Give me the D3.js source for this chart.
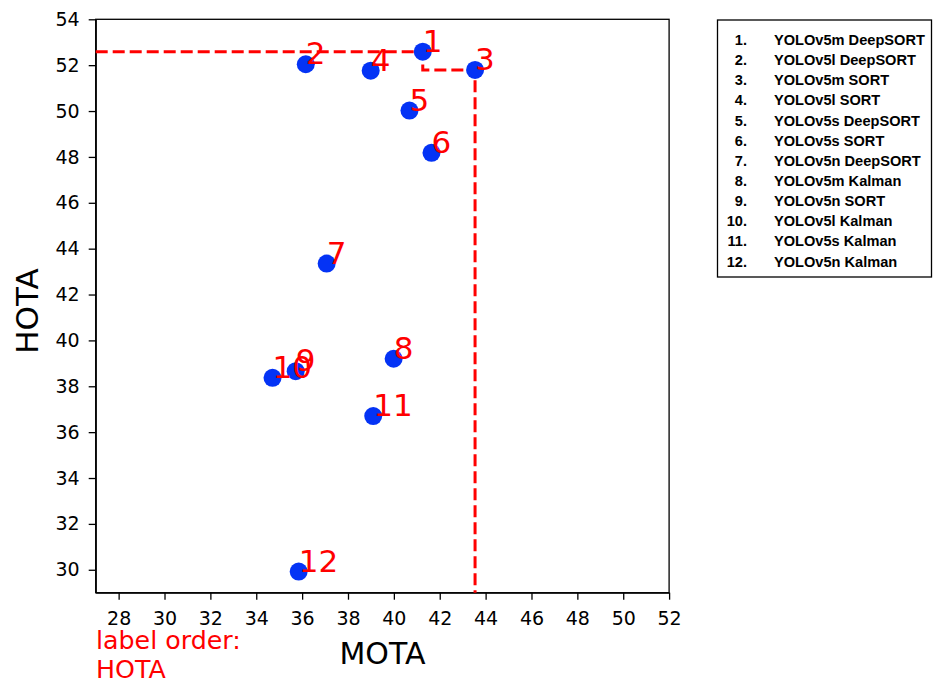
<!DOCTYPE html>
<html>
<head>
<meta charset="utf-8">
<script src="https://cdn.jsdelivr.net/npm/d3@7"></script>
<style>
  body { margin: 0; background: #fff; }
  svg { display: block; }
  .axis text { font-family: "DejaVu Sans", sans-serif; font-size: 19px; fill: #000; }
  .axis path, .axis line { stroke: #000; stroke-width: 1.3; }
</style>
</head>
<body>
<div id="chart"></div>
<script>
// data
var labels = ["1", "2", "3", "4", "5", "6", "7", "8", "9", "10", "11", "12"];
var names = ["YOLOv5m DeepSORT", "YOLOv5l DeepSORT", "YOLOv5m SORT", "YOLOv5l SORT",
  "YOLOv5s DeepSORT", "YOLOv5s SORT", "YOLOv5n DeepSORT", "YOLOv5m Kalman",
  "YOLOv5n SORT", "YOLOv5l Kalman", "YOLOv5s Kalman", "YOLOv5n Kalman"];
var mota = [41.26, 36.16, 43.54, 38.99, 40.68, 41.64, 37.07, 39.99, 35.72, 34.71, 39.10, 35.85];
var hota = [52.59, 52.04, 51.79, 51.76, 50.02, 48.18, 43.35, 39.20, 38.66, 38.37, 36.70, 29.92];
var frontier = [0, 2]; // pareto points (index into arrays)
var xTicks = [28, 30, 32, 34, 36, 38, 40, 42, 44, 46, 48, 50, 52];
var yTicks = [30, 32, 34, 36, 38, 40, 42, 44, 46, 48, 50, 52, 54];

var width = 933,
  height = 682;
var plotLeft = 95.7, plotTop = 19.3, size = 573.4;

var svg = d3.select("#chart").append("svg")
  .attr("width", width)
  .attr("height", height);

var x = d3.scaleLinear().domain([27, 52]).range([plotLeft, plotLeft + size]);
var y = d3.scaleLinear().domain([29, 54]).range([plotTop + size, plotTop]);

// frame
svg.append("rect")
  .attr("x", plotLeft).attr("y", plotTop)
  .attr("width", size).attr("height", size)
  .attr("fill", "none")
  .attr("stroke", "#000")
  .attr("stroke-width", 1.3);

svg.append("g")
  .attr("class", "axis")
  .attr("transform", "translate(0," + (plotTop + size) + ")")
  .call(d3.axisBottom(x).tickValues(xTicks).tickSize(7).tickPadding(12).tickSizeOuter(0));

svg.append("g")
  .attr("class", "axis")
  .attr("transform", "translate(" + plotLeft + ",0)")
  .call(d3.axisLeft(y).tickValues(yTicks).tickSize(7).tickPadding(9).tickSizeOuter(0));

// step line through the pareto points
var stepPts = [[x.domain()[0], hota[frontier[0]]]];
frontier.forEach(function(i, k) {
  stepPts.push([mota[i], hota[i]]);
  if (k < frontier.length - 1) {
    stepPts.push([mota[i], hota[frontier[k + 1]]]);
  }
});
var last = frontier[frontier.length - 1];
stepPts.push([mota[last], y.domain()[0]]);

svg.append("path")
  .datum(stepPts)
  .attr("fill", "none")
  .attr("stroke", "#ff0000")
  .attr("stroke-width", 3)
  .attr("stroke-dasharray", "12,5")
  .attr("d", d3.line()
    .x(function(d) { return x(d[0]); })
    .y(function(d) { return y(d[1]); }));

svg.selectAll("circle.pt")
  .data(labels)
  .enter().append("circle")
  .attr("class", "pt")
  .attr("cx", function(d, i) { return x(mota[i]); })
  .attr("cy", function(d, i) { return y(hota[i]); })
  .attr("r", 9)
  .attr("fill", "#0433f5");

svg.selectAll("text.lbl")
  .data(labels)
  .enter().append("text")
  .attr("class", "lbl")
  .attr("x", function(d, i) { return x(mota[i]); })
  .attr("y", function(d, i) { return y(hota[i]); })
  .attr("font-family", "DejaVu Sans, sans-serif")
  .attr("font-size", 31)
  .attr("fill", "#ff0000")
  .text(function(d) { return d; });

// axis titles
svg.append("text")
  .attr("x", plotLeft + size / 2)
  .attr("y", 664)
  .attr("text-anchor", "middle")
  .attr("font-family", "DejaVu Sans, sans-serif")
  .attr("font-size", 30)
  .text("MOTA");

svg.append("text")
  .attr("transform", "translate(38," + (plotTop + size / 2 + 5) + ") rotate(-90)")
  .attr("text-anchor", "middle")
  .attr("font-family", "DejaVu Sans, sans-serif")
  .attr("font-size", 31)
  .text("HOTA");

var note = svg.append("text")
  .attr("x", 96)
  .attr("font-family", "DejaVu Sans, sans-serif")
  .attr("font-size", 25.3)
  .attr("fill", "#ff0000");
note.append("tspan").attr("x", 96).attr("y", 649).text("label order:");
note.append("tspan").attr("x", 96).attr("y", 677.5).text("HOTA");

// legend
var lg = svg.append("g");
lg.append("rect")
  .attr("x", 717.5).attr("y", 20)
  .attr("width", 214).attr("height", 257)
  .attr("fill", "#fff")
  .attr("stroke", "#000")
  .attr("stroke-width", 1.3);

var row = d3.scaleLinear().domain([0, names.length - 1]).range([45, 266.5]);
var rows = lg.selectAll("g.row")
  .data(names)
  .enter().append("g")
  .attr("class", "row")
  .attr("font-family", "Liberation Sans, Arial, sans-serif")
  .attr("font-weight", "bold")
  .attr("font-size", 14.6);

rows.append("text")
  .attr("x", 747)
  .attr("y", function(d, i) { return row(i); })
  .attr("text-anchor", "end")
  .text(function(d, i) { return labels[i] + "."; });

rows.append("text")
  .attr("x", 774)
  .attr("y", function(d, i) { return row(i); })
  .text(function(d) { return d; });
</script>
</body>
</html>
